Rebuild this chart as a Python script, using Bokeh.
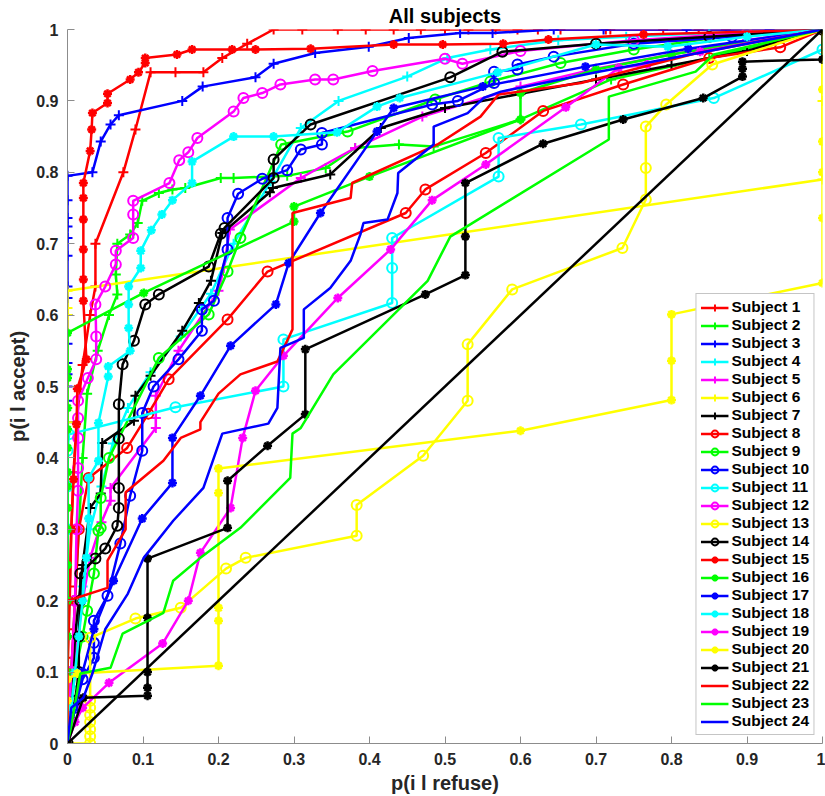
from bokeh.plotting import figure
from bokeh.models import FixedTicker, Legend, LegendItem, Title
from bokeh.embed import file_html
from bokeh.resources import INLINE

# ---------------- data ----------------
x_ticks = [0, 0.1, 0.2, 0.3, 0.4, 0.5, 0.6, 0.7, 0.8, 0.9, 1]
x_tick_labels = ["0", "0.1", "0.2", "0.3", "0.4", "0.5", "0.6", "0.7", "0.8", "0.9", "1"]
y_ticks = [0, 0.1, 0.2, 0.3, 0.4, 0.5, 0.6, 0.7, 0.8, 0.9, 1]
y_tick_labels = ["0", "0.1", "0.2", "0.3", "0.4", "0.5", "0.6", "0.7", "0.8", "0.9", "1"]

s1_x = [0, 0, 0, 0, 0.003, 0.005, 0.008, 0.012, 0.02, 0.03, 0.037, 0.037, 0.074, 0.09, 0.11, 0.143, 0.18, 0.205, 0.238, 0.273, 0.311, 0.358, 0.395, 0.432, 0.468, 0.50, 0.531, 0.567, 0.596, 0.623, 0.653, 0.713, 0.719, 0.789, 0.836, 0.872, 1]
s1_y = [0, 0.05, 0.12, 0.16, 0.22, 0.30, 0.38, 0.45, 0.53, 0.60, 0.64, 0.70, 0.80, 0.86, 0.94, 0.94, 0.94, 0.96, 0.98, 1, 1, 1, 1, 1, 1, 1, 1, 1, 1, 1, 1, 1, 1, 1, 1, 1, 1]

s2_x = [0, 0.003, 0.005, 0.008, 0.01, 0.015, 0.02, 0.026, 0.04, 0.055, 0.066, 0.064, 0.066, 0.083, 0.093, 0.099, 0.121, 0.139, 0.156, 0.203, 0.22, 0.291, 0.342, 0.381, 0.439, 0.485, 0.60, 0.72, 0.85, 1]
s2_y = [0, 0.04, 0.10, 0.15, 0.20, 0.30, 0.40, 0.49, 0.55, 0.60, 0.629, 0.657, 0.70, 0.713, 0.729, 0.76, 0.771, 0.776, 0.778, 0.792, 0.792, 0.795, 0.806, 0.834, 0.839, 0.836, 0.874, 0.93, 0.96, 1]

s3_x = [0, 0, 0, 0, 0, 0, 0, 0, 0, 0, 0, 0, 0, 0, 0, 0, 0, 0, 0, 0, 0, 0.033, 0.044, 0.057, 0.068, 0.152, 0.179, 0.249, 0.273, 0.328, 0.399, 0.452, 0.52, 0.563, 0.644, 0.71, 0.82, 0.93, 1]
s3_y = [0, 0.05, 0.10, 0.20, 0.30, 0.38, 0.45, 0.48, 0.50, 0.517, 0.533, 0.56, 0.60, 0.624, 0.64, 0.683, 0.708, 0.724, 0.736, 0.761, 0.795, 0.80, 0.843, 0.867, 0.88, 0.90, 0.92, 0.933, 0.952, 0.967, 0.976, 0.988, 0.995, 0.995, 1, 1, 1, 1, 1]

s4_x = [0, 0.005, 0.01, 0.02, 0.03, 0.045, 0.06, 0.08, 0.11, 0.15, 0.19, 0.22, 0.269, 0.309, 0.359, 0.45, 0.503, 0.56, 0.65, 0.74, 0.85, 1]
s4_y = [0, 0.08, 0.15, 0.22, 0.30, 0.36, 0.42, 0.47, 0.52, 0.57, 0.63, 0.70, 0.787, 0.862, 0.90, 0.934, 0.96, 0.972, 0.985, 0.99, 0.995, 1]

s5_x = [0, 0.005, 0.01, 0.02, 0.03, 0.045, 0.057, 0.057, 0.117, 0.117, 0.117, 0.147, 0.20, 0.207, 0.215, 0.309, 0.381, 0.47, 0.60, 0.70, 0.80, 0.90, 1]
s5_y = [0, 0.06, 0.12, 0.20, 0.26, 0.31, 0.34, 0.358, 0.442, 0.456, 0.487, 0.55, 0.634, 0.666, 0.72, 0.792, 0.834, 0.878, 0.92, 0.945, 0.965, 0.985, 1]

s6_x = [0, 0, 0, 0, 0, 0, 0, 0, 0, 1, 1, 1]
s6_y = [0, 0.10, 0.20, 0.30, 0.45, 0.47, 0.60, 0.61, 0.634, 0.79, 0.90, 1]

s7_x = [0, 0.005, 0.01, 0.02, 0.03, 0.044, 0.046, 0.088, 0.09, 0.11, 0.152, 0.174, 0.19, 0.205, 0.268, 0.272, 0.348, 0.415, 0.50, 0.60, 0.70, 0.80, 0.90, 1]
s7_y = [0, 0.05, 0.15, 0.25, 0.33, 0.35, 0.421, 0.452, 0.487, 0.515, 0.578, 0.617, 0.648, 0.715, 0.772, 0.778, 0.797, 0.862, 0.89, 0.91, 0.93, 0.95, 0.97, 1]

s8_x = [0, 0.005, 0.01, 0.015, 0.028, 0.079, 0.107, 0.134, 0.212, 0.265, 0.448, 0.474, 0.554, 0.63, 0.736, 0.85, 0.944, 1]
s8_y = [0, 0.10, 0.20, 0.30, 0.372, 0.414, 0.462, 0.51, 0.594, 0.661, 0.743, 0.776, 0.827, 0.886, 0.923, 0.96, 0.975, 1]

s9_x = [0, 0.005, 0.01, 0.02, 0.026, 0.035, 0.041, 0.044, 0.044, 0.055, 0.121, 0.187, 0.212, 0.229, 0.283, 0.371, 0.487, 0.56, 0.653, 0.75, 0.90, 1]
s9_y = [0, 0.05, 0.10, 0.15, 0.186, 0.238, 0.298, 0.302, 0.344, 0.40, 0.54, 0.601, 0.661, 0.708, 0.839, 0.857, 0.902, 0.927, 0.953, 0.972, 0.995, 1]

s10_x = [0, 0.01, 0.02, 0.035, 0.035, 0.035, 0.053, 0.07, 0.083, 0.099, 0.099, 0.114, 0.147, 0.178, 0.178, 0.194, 0.212, 0.212, 0.226, 0.258, 0.291, 0.309, 0.337, 0.337, 0.483, 0.517, 0.565, 0.565, 0.596, 0.596, 0.644, 0.75, 0.88, 1]
s10_y = [0, 0.05, 0.09, 0.12, 0.141, 0.172, 0.207, 0.28, 0.347, 0.41, 0.463, 0.50, 0.538, 0.578, 0.608, 0.62, 0.692, 0.736, 0.77, 0.791, 0.803, 0.832, 0.839, 0.855, 0.895, 0.90, 0.925, 0.941, 0.944, 0.951, 0.962, 0.98, 0.99, 1]

s11_x = [0, 0, 0, 0, 0, 0, 0, 0.002, 0.143, 0.286, 0.286, 0.43, 0.43, 0.43, 0.571, 0.571, 0.68, 0.856, 1, 1]
s11_y = [0, 0.05, 0.10, 0.20, 0.30, 0.36, 0.41, 0.433, 0.471, 0.50, 0.566, 0.617, 0.666, 0.708, 0.794, 0.848, 0.867, 0.904, 0.972, 1]

s12_x = [0, 0.005, 0.01, 0.012, 0.014, 0.014, 0.014, 0.014, 0.014, 0.027, 0.038, 0.038, 0.037, 0.05, 0.064, 0.064, 0.087, 0.087, 0.087, 0.135, 0.148, 0.16, 0.172, 0.22, 0.233, 0.258, 0.282, 0.328, 0.352, 0.404, 0.50, 0.523, 0.60, 0.75, 0.90, 1]
s12_y = [0, 0.10, 0.20, 0.30, 0.354, 0.386, 0.428, 0.456, 0.48, 0.512, 0.538, 0.57, 0.615, 0.64, 0.671, 0.69, 0.708, 0.741, 0.76, 0.785, 0.817, 0.828, 0.848, 0.885, 0.904, 0.911, 0.923, 0.93, 0.93, 0.942, 0.959, 0.952, 0.97, 0.985, 0.995, 1]

s13_x = [0, 0.03, 0.03, 0.03, 0.03, 0.03, 0.03, 0.03, 0.03, 0.09, 0.15, 0.21, 0.236, 0.383, 0.383, 0.471, 0.53, 0.53, 0.589, 0.735, 0.766, 0.766, 0.766, 0.793, 0.854, 1]
s13_y = [0, 0, 0.01, 0.02, 0.03, 0.04, 0.05, 0.06, 0.148, 0.175, 0.19, 0.245, 0.26, 0.291, 0.334, 0.403, 0.48, 0.559, 0.636, 0.694, 0.762, 0.806, 0.864, 0.895, 0.951, 1]

s14_x = [0, 0.005, 0.01, 0.015, 0.015, 0.017, 0.017, 0.037, 0.05, 0.066, 0.068, 0.068, 0.068, 0.068, 0.073, 0.088, 0.103, 0.121, 0.187, 0.203, 0.208, 0.273, 0.273, 0.322, 0.507, 0.576, 0.70, 0.85, 1]
s14_y = [0, 0.03, 0.06, 0.10, 0.15, 0.20, 0.238, 0.259, 0.273, 0.305, 0.33, 0.358, 0.427, 0.475, 0.531, 0.564, 0.615, 0.629, 0.668, 0.714, 0.722, 0.792, 0.818, 0.867, 0.933, 0.969, 0.98, 0.99, 1]

s15_x = [0, 0, 0, 0.003, 0.005, 0.008, 0.012, 0.013, 0.025, 0.021, 0.021, 0.021, 0.021, 0.021, 0.021, 0.03, 0.032, 0.033, 0.053, 0.053, 0.083, 0.094, 0.103, 0.103, 0.145, 0.165, 0.218, 0.249, 0.322, 0.432, 0.497, 0.577, 0.637, 0.763, 1]
s15_y = [0, 0.05, 0.10, 0.20, 0.30, 0.37, 0.447, 0.497, 0.538, 0.62, 0.65, 0.692, 0.734, 0.764, 0.785, 0.83, 0.86, 0.883, 0.897, 0.91, 0.93, 0.94, 0.953, 0.96, 0.965, 0.972, 0.972, 0.972, 0.973, 0.979, 0.979, 0.98, 0.986, 0.993, 1]

s16_x = [0, 0, 0, 0, 0, 0, 0, 0, 0, 0, 0, 0, 0, 0, 0, 0, 0.101, 0.30, 0.30, 0.40, 0.60, 0.60, 0.70, 0.80, 1]
s16_y = [0, 0.05, 0.10, 0.15, 0.20, 0.25, 0.30, 0.33, 0.36, 0.38, 0.414, 0.44, 0.47, 0.512, 0.524, 0.575, 0.631, 0.731, 0.752, 0.794, 0.874, 0.911, 0.944, 0.965, 1]

s17_x = [0, 0.01, 0.02, 0.035, 0.061, 0.099, 0.139, 0.139, 0.176, 0.216, 0.276, 0.293, 0.335, 0.41, 0.432, 0.55, 0.686, 0.822, 1]
s17_y = [0, 0.05, 0.10, 0.16, 0.228, 0.315, 0.365, 0.428, 0.487, 0.557, 0.615, 0.673, 0.743, 0.857, 0.89, 0.92, 0.948, 0.973, 1]

s18_x = [0, 0.005, 0.01, 0.015, 0.02, 0.025, 0.028, 0.028, 0.041, 0.041, 0.054, 0.054, 0.083, 0.081, 0.081, 0.081, 0.097, 0.097, 0.111, 0.125, 0.139, 0.165, 0.165, 0.22, 0.273, 0.357, 0.41, 0.44, 0.57, 0.70, 0.795, 0.90, 1]
s18_y = [0, 0.05, 0.10, 0.15, 0.20, 0.26, 0.315, 0.372, 0.396, 0.449, 0.514, 0.528, 0.55, 0.582, 0.615, 0.64, 0.666, 0.69, 0.719, 0.741, 0.761, 0.785, 0.815, 0.85, 0.85, 0.856, 0.892, 0.904, 0.94, 0.979, 0.976, 0.99, 1]

s19_x = [0, 0.01, 0.02, 0.055, 0.126, 0.16, 0.176, 0.216, 0.232, 0.249, 0.286, 0.358, 0.428, 0.483, 0.554, 0.66, 0.73, 0.768, 0.838, 1]
s19_y = [0, 0.03, 0.05, 0.085, 0.14, 0.20, 0.267, 0.33, 0.428, 0.494, 0.543, 0.624, 0.692, 0.761, 0.811, 0.891, 0.946, 0.951, 0.969, 1]

s20_x = [0, 0, 0, 0, 0.013, 0.20, 0.20, 0.20, 0.20, 0.20, 0.60, 0.80, 0.80, 0.80, 1, 1, 1, 1, 1, 1]
s20_y = [0, 0.03, 0.06, 0.09, 0.098, 0.109, 0.172, 0.19, 0.351, 0.385, 0.438, 0.481, 0.536, 0.601, 0.645, 0.736, 0.80, 0.843, 0.916, 1]

s21_x = [0, 0.021, 0.106, 0.106, 0.106, 0.106, 0.106, 0.212, 0.212, 0.265, 0.315, 0.315, 0.474, 0.527, 0.527, 0.527, 0.63, 0.736, 0.842, 0.894, 0.894, 0.894, 1, 1]
s21_y = [0, 0.064, 0.067, 0.078, 0.10, 0.176, 0.259, 0.302, 0.368, 0.417, 0.461, 0.552, 0.629, 0.656, 0.71, 0.785, 0.84, 0.874, 0.904, 0.934, 0.945, 0.955, 0.958, 1]

s22_x = [0, 0, 0, 0.053, 0.053, 0.077, 0.077, 0.127, 0.15, 0.176, 0.176, 0.20, 0.229, 0.278, 0.298, 0.298, 0.375, 0.377, 0.49, 0.547, 0.571, 0.68, 0.83, 1]
s22_y = [0, 0.05, 0.20, 0.218, 0.256, 0.30, 0.352, 0.396, 0.428, 0.44, 0.45, 0.49, 0.517, 0.535, 0.58, 0.743, 0.764, 0.785, 0.839, 0.878, 0.909, 0.925, 0.966, 1]

s23_x = [0, 0.005, 0.017, 0.057, 0.073, 0.127, 0.14, 0.176, 0.229, 0.295, 0.298, 0.309, 0.352, 0.477, 0.507, 0.717, 0.717, 0.832, 0.856, 1]
s23_y = [0, 0.025, 0.098, 0.106, 0.154, 0.183, 0.228, 0.26, 0.302, 0.372, 0.434, 0.442, 0.517, 0.648, 0.71, 0.846, 0.906, 0.941, 0.965, 1]

s24_x = [0, 0.005, 0.021, 0.033, 0.05, 0.08, 0.101, 0.14, 0.18, 0.205, 0.266, 0.278, 0.282, 0.313, 0.313, 0.348, 0.375, 0.388, 0.392, 0.424, 0.437, 0.438, 0.485, 0.485, 0.53, 0.551, 0.574, 0.70, 0.85, 1]
s24_y = [0, 0.05, 0.064, 0.098, 0.16, 0.21, 0.26, 0.312, 0.358, 0.434, 0.448, 0.47, 0.554, 0.568, 0.608, 0.638, 0.676, 0.713, 0.729, 0.734, 0.771, 0.799, 0.839, 0.864, 0.883, 0.904, 0.913, 0.94, 0.97, 1]

chance_x = [0, 1]
chance_y = [0, 1]

series_x = [s1_x, s2_x, s3_x, s4_x, s5_x, s6_x, s7_x, s8_x, s9_x, s10_x, s11_x, s12_x,
            s13_x, s14_x, s15_x, s16_x, s17_x, s18_x, s19_x, s20_x, s21_x, s22_x, s23_x, s24_x]
series_y = [s1_y, s2_y, s3_y, s4_y, s5_y, s6_y, s7_y, s8_y, s9_y, s10_y, s11_y, s12_y,
            s13_y, s14_y, s15_y, s16_y, s17_y, s18_y, s19_y, s20_y, s21_y, s22_y, s23_y, s24_y]
names = ["Subject %d" % (i + 1) for i in range(24)]

# ---------------- styles ----------------
cycle = ["#ff0000", "#00ff00", "#0000ff", "#00ffff", "#ff00ff", "#ffff00", "#000000"]
FONT = "Liberation Sans"

p = figure(width=825, height=796, x_range=(0, 1), y_range=(0, 1),
           output_backend="svg", toolbar_location=None,
           min_border_left=67, min_border_right=3, min_border_top=28, min_border_bottom=53)
p.title = Title(text="All subjects", align="center", text_font=FONT,
                text_font_size="20px", text_font_style="bold", text_color="#000000",
                standoff=5)
p.grid.visible = False
p.outline_line_color = None
p.background_fill_color = "white"
p.border_fill_color = "white"

for ax, ticks, labels in ((p.xaxis[0], x_ticks, x_tick_labels), (p.yaxis[0], y_ticks, y_tick_labels)):
    ax.ticker = FixedTicker(ticks=ticks, minor_ticks=[])
    ax.major_label_overrides = {t: l for t, l in zip(ticks, labels)}
    ax.major_tick_in = 7
    ax.major_tick_out = 0
    ax.minor_tick_line_color = None
    ax.axis_line_color = "#8c8c8c"
    ax.major_tick_line_color = "#8c8c8c"
    ax.major_label_text_font = FONT
    ax.major_label_text_font_style = "bold"
    ax.major_label_text_font_size = "16px"
    ax.major_label_text_color = "#262626"
    ax.major_label_standoff = 9
    ax.axis_label_text_font = FONT
    ax.axis_label_text_font_style = "bold"
    ax.axis_label_text_font_size = "20px"
    ax.axis_label_text_color = "#262626"
    ax.axis_label_standoff = 4

p.xaxis[0].axis_label = "p(i l refuse)"
p.yaxis[0].axis_label = "p(i l accept)"

items = []
for i in range(24):
    color = cycle[i % 7]
    group = i // 7
    r_line = p.line(series_x[i], series_y[i], line_color=color, line_width=2.5)
    rs = [r_line]
    if group == 0:
        r_m = p.scatter(series_x[i], series_y[i], marker="cross", size=10,
                        line_color=color, line_width=2)
        rs.append(r_m)
    elif group == 1:
        r_m = p.scatter(series_x[i], series_y[i], marker="circle", size=10,
                        line_color=color, fill_color=None, line_width=2)
        rs.append(r_m)
    elif group == 2:
        r_m = p.scatter(series_x[i], series_y[i], marker="asterisk", size=9,
                        line_color=color, line_width=2.5)
        rs.append(r_m)
    items.append(LegendItem(label=names[i], renderers=rs))

p.line(chance_x, chance_y, line_color="#000000", line_width=2.5)

legend = Legend(items=items, location="bottom_right")
legend.label_text_font = FONT
legend.label_text_font_style = "bold"
legend.label_text_font_size = "15.5px"
legend.label_text_color = "#000000"
legend.label_height = 17
legend.glyph_height = 17
legend.glyph_width = 28
legend.label_standoff = 3
legend.spacing = 0
legend.padding = 4
legend.margin = 8
legend.border_line_color = "#8c8c8c"
legend.border_line_width = 1
legend.background_fill_color = "white"
legend.background_fill_alpha = 1
p.add_layout(legend)

open("out.html", "w").write(file_html(p, INLINE))
